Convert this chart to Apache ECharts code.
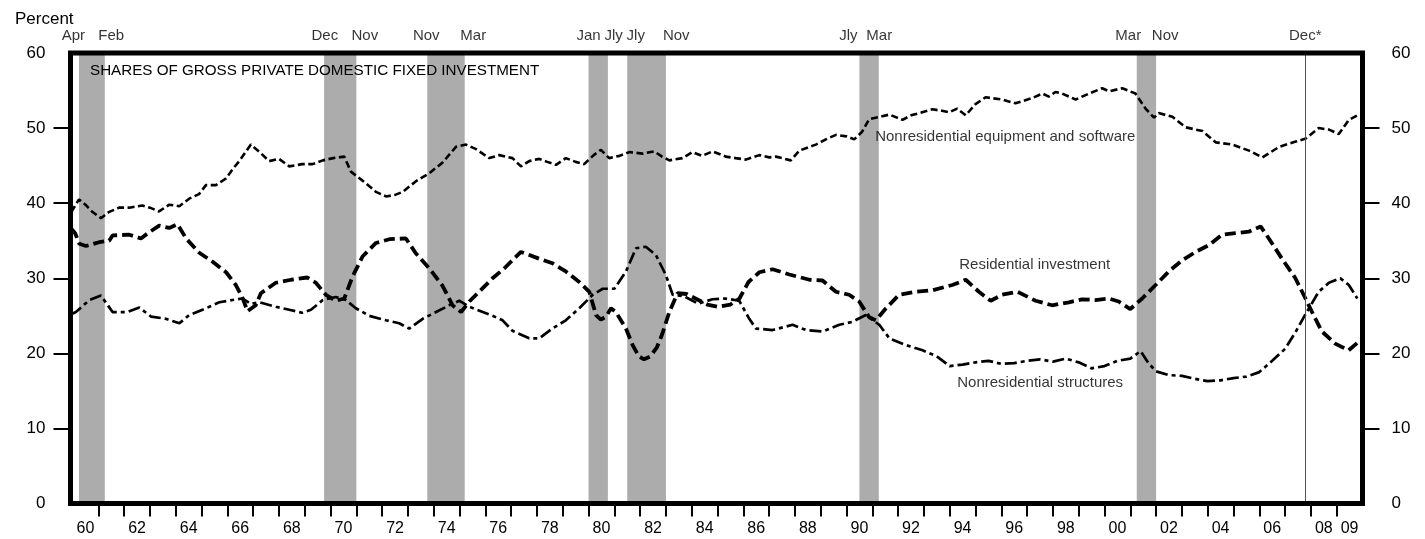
<!DOCTYPE html>
<html><head><meta charset="utf-8">
<script src="https://cdn.jsdelivr.net/npm/echarts@6/dist/echarts.min.js"></script>
<style>html,body{margin:0;padding:0;background:#fff}#c{width:1425px;height:539px}</style>
</head><body><div id="c"></div>
<script>
// ---- data ----
const equipment = [
 [1959.95,38.8],[1960.25,40.5],[1960.5,39.8],[1960.75,38.9],[1961.1,38.0],[1961.4,38.8],[1961.8,39.4],[1962.2,39.4],[1962.7,39.7],[1963.0,39.4],[1963.35,38.9],[1963.75,39.8],[1964.14,39.6],[1964.52,40.6],[1964.9,41.2],[1965.17,42.4],[1965.56,42.4],[1965.95,43.3],[1966.2,44.5],[1966.46,45.6],[1966.91,47.8],[1967.25,46.8],[1967.62,45.6],[1968.0,45.9],[1968.4,44.9],[1968.9,45.2],[1969.3,45.2],[1969.7,45.7],[1970.1,46.0],[1970.53,46.2],[1970.79,44.2],[1971.24,43.0],[1971.76,41.5],[1972.15,40.9],[1972.5,41.1],[1972.8,41.5],[1973.3,42.9],[1973.83,44.0],[1974.34,45.4],[1974.86,47.5],[1975.25,47.8],[1975.64,47.2],[1976.15,46.0],[1976.54,46.4],[1977.05,46.0],[1977.38,44.9],[1977.7,45.6],[1978.09,45.9],[1978.4,45.5],[1978.74,45.1],[1979.12,46.0],[1979.5,45.5],[1979.83,45.2],[1980.2,46.4],[1980.48,47.1],[1980.8,46.0],[1981.2,46.3],[1981.58,46.8],[1982.1,46.6],[1982.55,46.9],[1982.85,46.2],[1983.13,45.7],[1983.64,46.0],[1984.03,46.8],[1984.4,46.3],[1984.81,46.9],[1985.32,46.2],[1985.7,46.0],[1986.1,45.8],[1986.62,46.4],[1987.0,46.1],[1987.26,46.2],[1987.84,45.7],[1988.17,47.0],[1988.81,47.8],[1989.2,48.5],[1989.59,49.1],[1990.0,48.9],[1990.3,48.5],[1990.6,49.5],[1990.88,51.2],[1991.3,51.5],[1991.66,51.8],[1992.17,51.1],[1992.5,51.7],[1992.82,52.0],[1993.33,52.5],[1993.7,52.3],[1993.97,52.1],[1994.29,52.6],[1994.62,51.7],[1995.0,53.2],[1995.39,54.1],[1996.03,53.8],[1996.55,53.3],[1997.2,54.0],[1997.6,54.6],[1997.84,54.2],[1998.1,54.8],[1998.36,54.6],[1998.88,53.8],[1999.4,54.6],[1999.91,55.3],[2000.17,54.9],[2000.69,55.3],[2001.2,54.6],[2001.59,52.6],[2001.92,51.4],[2002.1,52.0],[2002.63,51.5],[2003.15,50.1],[2003.8,49.6],[2004.31,48.1],[2004.96,47.8],[2005.6,47.0],[2006.12,46.1],[2006.77,47.5],[2007.41,48.2],[2007.8,48.6],[2008.3,50.0],[2008.7,49.8],[2009.08,49.2],[2009.47,51.1],[2009.8,51.7]
];
const residential = [
 [1959.95,36.6],[1960.1,36.0],[1960.26,34.6],[1960.52,34.3],[1961.03,34.8],[1961.42,35.0],[1961.55,35.7],[1962.2,35.8],[1962.65,35.3],[1963.0,36.2],[1963.36,37.0],[1963.75,36.7],[1964.07,37.2],[1964.4,35.3],[1964.91,33.4],[1965.43,32.2],[1965.95,30.8],[1966.33,29.1],[1966.6,27.3],[1966.78,25.6],[1967.1,26.4],[1967.3,28.0],[1967.88,29.4],[1968.47,29.8],[1969.1,30.1],[1969.43,29.4],[1969.82,27.8],[1970.2,27.0],[1970.53,27.3],[1970.85,30.2],[1971.24,32.9],[1971.76,34.7],[1972.28,35.2],[1972.92,35.3],[1973.31,33.3],[1973.83,31.3],[1974.34,29.0],[1974.73,26.4],[1975.06,25.5],[1975.38,26.9],[1975.76,28.2],[1976.28,30.0],[1976.73,31.3],[1977.05,32.4],[1977.38,33.5],[1978.09,32.6],[1978.6,32.0],[1979.12,30.9],[1979.64,29.5],[1980.03,28.2],[1980.29,25.1],[1980.48,24.5],[1980.68,24.9],[1980.87,26.0],[1981.06,25.5],[1981.45,23.3],[1981.71,21.1],[1981.95,19.6],[1982.15,19.2],[1982.4,19.6],[1982.65,20.8],[1982.85,22.5],[1983.13,25.5],[1983.45,28.0],[1983.8,27.9],[1984.2,27.2],[1984.6,26.5],[1985.0,26.2],[1985.5,26.5],[1985.85,27.3],[1986.2,29.5],[1986.62,30.8],[1987.13,31.2],[1987.78,30.5],[1988.56,29.8],[1989.07,29.7],[1989.59,28.2],[1990.1,27.8],[1990.49,26.9],[1990.88,24.8],[1991.14,24.4],[1991.53,26.0],[1992.04,27.8],[1992.69,28.2],[1993.33,28.4],[1994.1,29.1],[1994.62,29.8],[1995.13,28.2],[1995.59,27.0],[1996.03,27.8],[1996.62,28.2],[1997.33,27.0],[1997.97,26.4],[1998.62,26.8],[1999.13,27.2],[1999.65,27.1],[2000.17,27.3],[2000.55,26.9],[2001.0,25.9],[2001.46,27.3],[2001.98,29.1],[2002.49,30.9],[2003.01,32.4],[2003.53,33.5],[2004.04,34.4],[2004.56,35.8],[2005.07,36.0],[2005.59,36.2],[2006.05,36.9],[2006.37,35.3],[2006.88,32.6],[2007.4,30.0],[2007.79,27.3],[2008.1,25.1],[2008.43,22.9],[2008.94,21.3],[2009.46,20.4],[2009.8,21.4]
];
const structures = [
 [1959.95,25.2],[1960.13,25.5],[1960.65,27.1],[1961.1,27.7],[1961.55,25.5],[1962.13,25.5],[1962.59,26.1],[1963.04,24.9],[1963.62,24.6],[1964.14,24.0],[1964.52,25.1],[1965.17,26.0],[1965.69,26.8],[1966.2,27.1],[1966.59,27.3],[1966.91,26.6],[1967.24,26.8],[1967.88,26.2],[1968.4,25.8],[1968.9,25.4],[1969.24,25.8],[1969.7,27.1],[1970.2,27.5],[1970.59,27.1],[1970.98,26.0],[1971.5,25.0],[1972.15,24.4],[1972.66,24.0],[1973.05,23.3],[1973.57,24.6],[1974.09,25.5],[1974.6,26.4],[1974.99,27.0],[1975.38,26.2],[1975.9,25.5],[1976.28,25.0],[1976.67,24.4],[1977.05,23.0],[1977.7,22.0],[1978.09,22.0],[1978.6,23.3],[1979.12,24.4],[1979.64,26.0],[1980.16,27.8],[1980.55,28.6],[1981.0,28.6],[1981.45,30.9],[1981.84,34.0],[1982.22,34.2],[1982.61,33.1],[1983.0,30.4],[1983.26,27.8],[1983.7,27.6],[1984.25,26.6],[1984.8,27.2],[1985.3,27.3],[1985.84,27.0],[1986.23,24.6],[1986.49,23.3],[1987.13,23.1],[1987.91,23.8],[1988.43,23.1],[1989.07,22.9],[1989.72,23.8],[1990.23,24.2],[1990.75,25.1],[1991.27,23.8],[1991.66,22.0],[1992.3,21.1],[1992.95,20.4],[1993.5,19.6],[1994.0,18.3],[1994.5,18.5],[1995.0,18.8],[1995.5,19.0],[1996.0,18.6],[1996.5,18.7],[1997.0,19.0],[1997.5,19.2],[1998.0,18.9],[1998.5,19.3],[1999.0,18.8],[1999.5,18.0],[2000.0,18.3],[2000.5,19.0],[2001.0,19.3],[2001.4,20.3],[2001.7,18.7],[2002.0,17.6],[2002.5,17.1],[2003.0,17.0],[2003.5,16.6],[2004.0,16.3],[2004.5,16.4],[2005.0,16.7],[2005.5,16.9],[2006.0,17.5],[2006.5,19.0],[2007.0,20.6],[2007.4,22.8],[2007.79,25.2],[2008.3,28.2],[2008.7,29.4],[2009.14,30.0],[2009.47,29.1],[2009.8,27.3]
];
const recessionStart = [1960.25, 1969.75, 1973.75, 1980.0, 1981.5, 1990.5, 2001.25];
const recessionEnd   = [1961.25, 1971.0, 1975.2, 1980.75, 1983.0, 1991.25, 2002.0];
const topLabels     = ['Apr','Feb','Dec','Nov','Nov','Mar','Jan','Jly','Jly','Nov','Jly','Mar','Mar','Nov','Dec*'];
const topLabelYears = [1960.03,1961.5,1969.78,1971.33,1973.71,1975.53,1980.0,1980.97,1981.83,1983.40,1990.07,1991.27,2000.92,2002.35,2007.78];
const cyclePeakLine = 2007.8;
const xTickLabels = ['60','62','64','66','68','70','72','74','76','78','80','82','84','86','88','90','92','94','96','98','00','02','04','06','08','09'];
const annotations = [
  ['Nonresidential equipment and software', 1991.11, 48.87],
  ['Residential investment', 1994.37, 31.8],
  ['Nonresidential structures', 1994.29, 16.07]
];
const topLabelValue = 62.3;

// ---- derived helpers ----
function yr(lbl){ const n = parseInt(lbl,10); return (n >= 50 ? 1900 : 2000) + n + 0.5; }
const xLabelPos = xTickLabels.map(yr);
const xTickPos = []; for (let y = 1961; y <= 2009; y++) xTickPos.push(y);
const FONT = 'Liberation Sans, Arial, Helvetica, sans-serif';

const chart = echarts.init(document.getElementById('c'), null, {renderer:'canvas'});
const option = {
  animation: false,
  backgroundColor: '#fff',
  grid: {left: 70.5, right: 62.5, top: 53, bottom: 35.5, show: true, z: 10,
         backgroundColor: 'transparent', borderColor: '#000', borderWidth: 5},
  graphic: [
    {type:'text', left: 15, top: 11, z: 20, style:{text:'Percent', font:'17px ' + FONT, fill:'#000'}},
    {type:'text', left: 90, top: 63, z: 20, style:{text:'SHARES OF GROSS PRIVATE DOMESTIC FIXED INVESTMENT', font:'15.2px ' + FONT, fill:'#000'}}
  ],
  xAxis: [{
    type:'value', min: 1959.92, max: 2010, position:'bottom',
    axisLine:{show:false}, splitLine:{show:false},
    axisTick:{show:true, customValues: xTickPos, length: 13, lineStyle:{color:'#000', width:2}},
    axisLabel:{show:true, customValues: xLabelPos, margin: 17, fontSize: 16, color:'#000', fontFamily: FONT,
      formatter: v => xTickLabels[xLabelPos.findIndex(p => Math.abs(p - v) < 0.01)]}
  }],
  yAxis: [
    {type:'value', min:0, max:60, interval:10, position:'left',
     axisLine:{show:false}, splitLine:{show:false},
     axisTick:{show:true, customValues:[10,20,30,40,50], length:17, lineStyle:{color:'#000', width:2}},
     axisLabel:{margin:25, fontSize:17, color:'#000', fontFamily: FONT}},
    {type:'value', min:0, max:60, interval:10, position:'right',
     axisLine:{show:false}, splitLine:{show:false},
     axisTick:{show:true, customValues:[10,20,30,40,50], length:17, lineStyle:{color:'#000', width:2}},
     axisLabel:{margin:29, fontSize:17, color:'#000', fontFamily: FONT}}
  ],
  series: [
    {type:'line', name:'shading', data:[], silent:true,
     markArea:{silent:true, itemStyle:{color:'#acacac'},
       data: recessionStart.map((s,i) => [{xAxis:s},{xAxis:recessionEnd[i]}])},
     markLine:{silent:true, symbol:['none','none'], label:{show:false},
       lineStyle:{color:'#555', width:1, type:'solid'}, data:[{xAxis: cyclePeakLine}]}},
    {type:'line', name:'Nonresidential equipment and software', data: equipment, symbol:'none', z:3,
     lineStyle:{color:'#000', width:2.6, type:[7,3.5]}},
    {type:'line', name:'Residential investment', data: residential, symbol:'none', z:4,
     lineStyle:{color:'#000', width:3.8, type:[11,5]}},
    {type:'line', name:'Nonresidential structures', data: structures, symbol:'none', z:3,
     lineStyle:{color:'#000', width:2.7, type:[12,4,4,4]}},
    {type:'scatter', name:'toplabels', clip:false, symbolSize:0, silent:true,
     data: topLabels.map((t,i) => [topLabelYears[i], topLabelValue, t]),
     label:{show:true, position:'inside', formatter: p => p.data[2], fontSize:15, color:'#000', fontFamily: FONT}},
    {type:'scatter', name:'annotations', clip:false, symbolSize:0, silent:true,
     data: annotations.map(a => [a[1], a[2], a[0]]),
     label:{show:true, position:'right', distance:0, align:'left', verticalAlign:'middle',
       formatter: p => p.data[2], fontSize:15, color:'#000', fontFamily: FONT}}
  ]
};
chart.setOption(option);
</script></body></html>
